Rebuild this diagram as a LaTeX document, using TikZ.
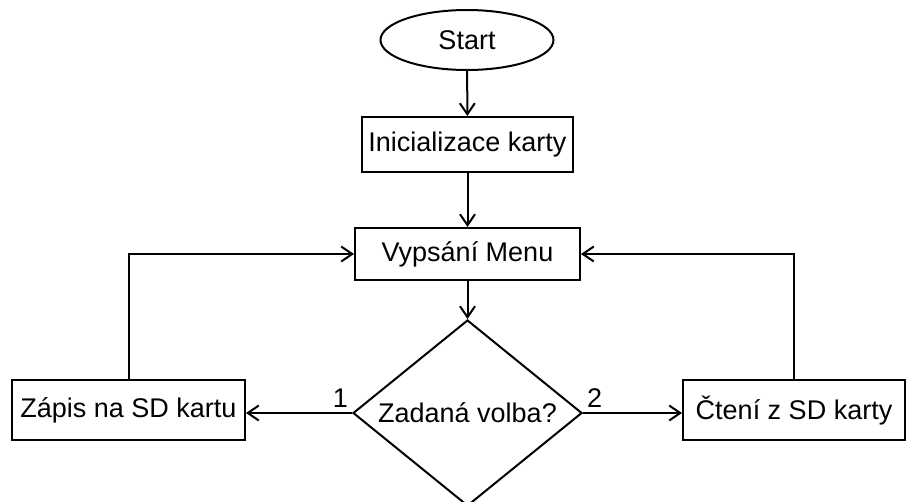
\documentclass[tikz,border=0pt]{standalone}
\usepackage{fontspec}
\setmainfont{Liberation Sans}
\usepackage{tikz}
\tikzset{
  chart_font/.style = {font=\fontsize{27}{32}\selectfont},
  chart_line/.style = {line width=2pt}
}
\tikzset{
  terminal/.style = {chart_font, chart_line, draw, ellipse, minimum width=173pt, minimum height=60pt, inner sep=0},
  process/.style = {chart_font, chart_line, draw, rectangle, inner sep=0},
  decision/.style = {chart_font, chart_line, draw, diamond, aspect=1.23, minimum width=229pt, minimum height=186pt, inner sep=0},
  flow/.style = {chart_line, ->},
  branch/.style = {chart_font, inner sep=3pt, yshift=2pt}
}
\usetikzlibrary{shapes.geometric, arrows.meta, positioning}

\begin{document}
\begin{tikzpicture}[x=1pt, y=1pt, >={Straight Barb[length=11pt, width=15pt]}]
        \useasboundingbox (0,0) rectangle (907,-501);

        % Blocks
        \node[terminal] (start) at (467,-40) {Start};
        \node[process, minimum width=211pt, minimum height=55pt] (init) at (467.5,-144.5) {Inicializace karty};
        \node[process, minimum width=225pt, minimum height=52pt] (menu) at (467.5,-254) {Vypsání Menu};
        \node[decision] (choice) at (467.5,-413) {Zadaná volba?};
        \node[process, minimum width=233pt, minimum height=60pt] (write) at (128.5,-410) {Zápis na SD kartu};
        \node[process, minimum width=222pt, minimum height=60pt] (read) at (794,-410) {Čtení z SD karty};

        % Arrows
        \draw[flow] (start) -- (init);
        \draw[flow] (init) -- (menu);
        \draw[flow] (menu) -- (choice);
        \draw[flow] (choice.west) -- (choice.west -| write.east)
            node[branch, pos=0, above left] (one) {1};
        \draw[flow] (choice.east) -- (choice.east -| read.west)
            node[branch, pos=0, above right] (two) {2};
        \draw[flow] (write.north) |- (menu.west);
        \draw[flow] (read.north) |- (menu.east);
\end{tikzpicture}
\end{document}
